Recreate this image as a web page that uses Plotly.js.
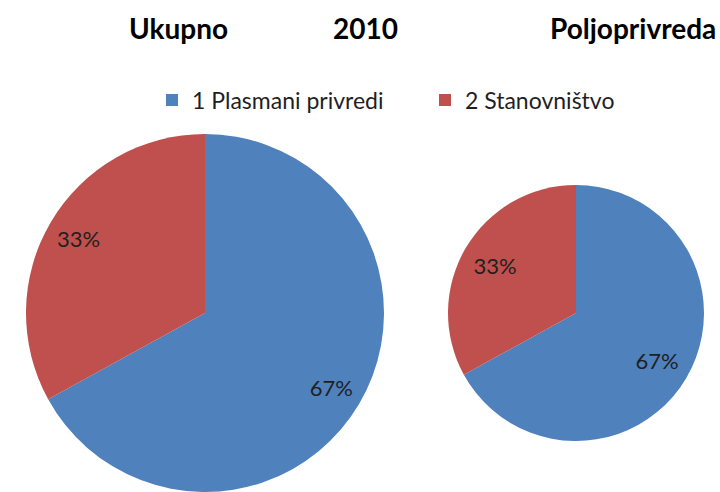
<!DOCTYPE html>
<html>
<head>
<meta charset="utf-8">
<script src="https://cdn.plot.ly/plotly-3.0.1.min.js"></script>
<style>html,body{margin:0;padding:0;overflow:hidden;background:#fff}</style>
</head>
<body>
<div id="chart" style="width:720px;height:492px"></div>
<script>
const categories = ["1 Plasmani privredi", "2 Stanovništvo"];
const ukupnoValues = [67, 33];
const poljoprivredaValues = [67, 33];
const titleLeft = "Ukupno";
const titleMid = "2010";
const titleRight = "Poljoprivreda";
const colors = ["#4F81BD", "#C0504D"];

const W = 720, H = 492;
const font = "Lato, 'Open Sans', 'DejaVu Sans', sans-serif";

function pie(values, dom) {
  return {
    type: "pie",
    labels: categories,
    values: values,
    sort: false,
    direction: "clockwise",
    rotation: 0,
    marker: {colors: colors, line: {width: 0}},
    textinfo: "none",
    hoverinfo: "label+percent",
    domain: dom
  };
}

// transparent overlay carrying the percentage labels, placed near the rim
function labelPie(values, dom, hole) {
  return {
    type: "pie",
    labels: categories,
    values: values,
    sort: false,
    direction: "clockwise",
    rotation: 0,
    hole: hole,
    showlegend: false,
    marker: {colors: ["rgba(0,0,0,0)", "rgba(0,0,0,0)"], line: {width: 0}},
    textinfo: "percent",
    texttemplate: "%{percent:.0%}",
    textposition: "inside",
    insidetextorientation: "horizontal",
    textfont: {family: font, size: 22, color: "#1f1f1f"},
    hoverinfo: "skip",
    domain: dom
  };
}

const leftDomain = {x: [26 / W, 384 / W], y: [0, 358 / H]};
const rightDomain = {x: [448 / W, 704 / W], y: [51 / H, 307 / H]};

const data = [
  pie(ukupnoValues, leftDomain),
  pie(poljoprivredaValues, rightDomain),
  labelPie(ukupnoValues, leftDomain, 0.64),
  labelPie(poljoprivredaValues, rightDomain, 0.47)
];

const layout = {
  width: W, height: H,
  margin: {l: 0, r: 0, t: 0, b: 0},
  paper_bgcolor: "#fff",
  showlegend: true,
  legend: {
    orientation: "h",
    x: 152 / W, xanchor: "left",
    y: 1 - 100 / H, yanchor: "middle",
    font: {family: font, size: 23, color: "#1f1f1f"},
    entrywidth: 228,
    traceorder: "normal"
  },
  annotations: [
    {text: "<b>" + titleLeft + "</b>", x: 178 / W, xanchor: "center", y: 1 - 28 / H, yanchor: "middle", xref: "paper", yref: "paper", showarrow: false, font: {family: font, size: 28, color: "#000"}},
    {text: "<b>" + titleMid + "</b>", x: 365 / W, xanchor: "center", y: 1 - 28 / H, yanchor: "middle", xref: "paper", yref: "paper", showarrow: false, font: {family: font, size: 28, color: "#000"}},
    {text: "<b>" + titleRight + "</b>", x: 633 / W, xanchor: "center", y: 1 - 28 / H, yanchor: "middle", xref: "paper", yref: "paper", showarrow: false, font: {family: font, size: 28, color: "#000"}}
  ]
};

Plotly.newPlot("chart", data, layout, {displayModeBar: false, staticPlot: true});
</script>
</body>
</html>
